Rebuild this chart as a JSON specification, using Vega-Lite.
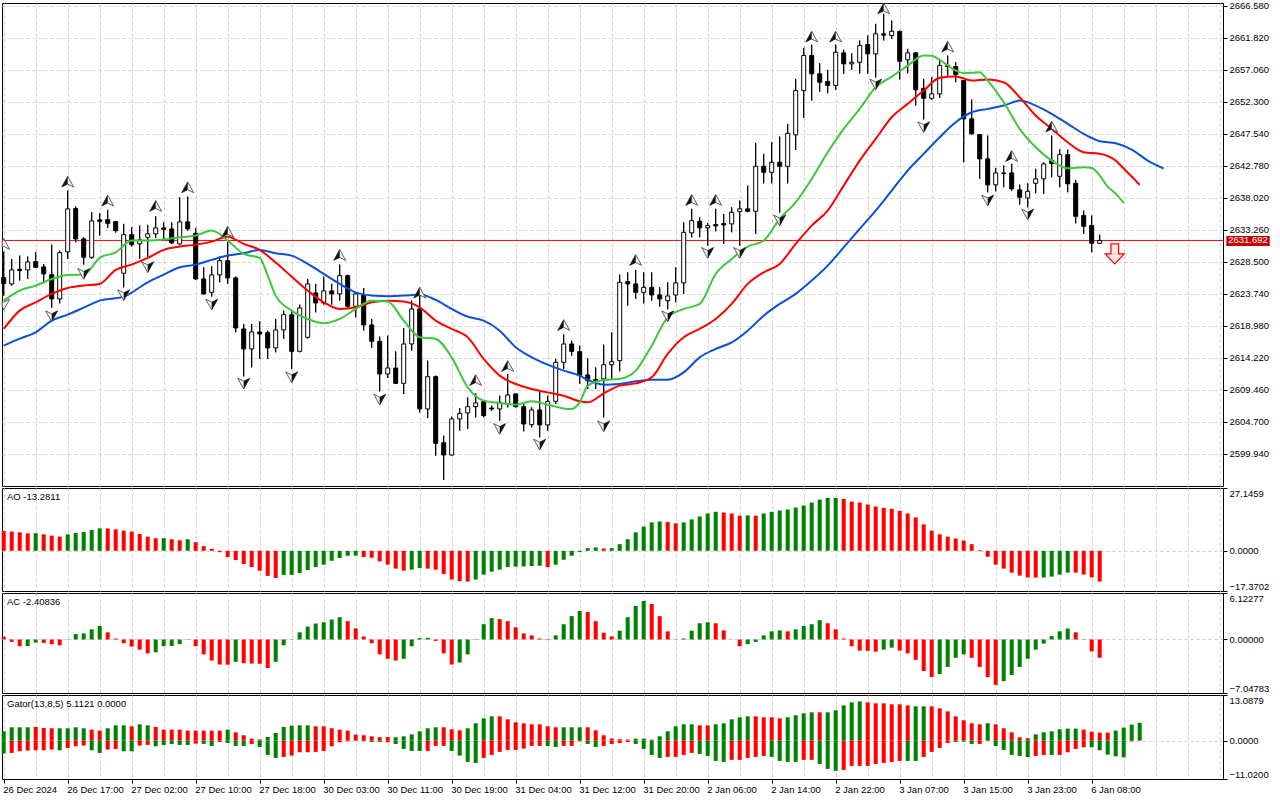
{
  "$schema": "https://vega.github.io/schema/vega-lite/v6.json",
  "background": "white",
  "padding": {"left": 0, "top": 0, "right": 0, "bottom": 0},
  "spacing": 0,
  "resolve": {"scale": {"color": "independent"}},
  "datasets": {
    "candles": [
      {"i":0,"o":2626.17,"h":2630.03,"l":2623.49,"c":2625.27},
      {"i":1,"o":2625.23,"h":2628.95,"l":2624.98,"c":2627.31},
      {"i":2,"o":2627.40,"h":2629.44,"l":2625.72,"c":2627.21},
      {"i":3,"o":2627.31,"h":2629.29,"l":2625.97,"c":2628.50},
      {"i":4,"o":2628.55,"h":2629.93,"l":2627.61,"c":2627.70},
      {"i":5,"o":2627.76,"h":2628.20,"l":2625.32,"c":2626.72},
      {"i":6,"o":2626.61,"h":2631.07,"l":2621.66,"c":2623.00},
      {"i":7,"o":2623.00,"h":2630.18,"l":2622.34,"c":2629.88},
      {"i":8,"o":2629.99,"h":2639.11,"l":2628.95,"c":2636.39},
      {"i":9,"o":2636.43,"h":2636.73,"l":2631.42,"c":2631.92},
      {"i":10,"o":2631.92,"h":2632.16,"l":2628.10,"c":2629.19},
      {"i":11,"o":2629.19,"h":2635.88,"l":2628.95,"c":2634.60},
      {"i":12,"o":2634.75,"h":2635.73,"l":2632.41,"c":2634.54},
      {"i":13,"o":2634.79,"h":2636.24,"l":2633.56,"c":2634.24},
      {"i":14,"o":2634.50,"h":2634.60,"l":2632.86,"c":2633.16},
      {"i":15,"o":2626.81,"h":2634.15,"l":2624.72,"c":2632.56},
      {"i":16,"o":2632.56,"h":2633.65,"l":2630.78,"c":2631.07},
      {"i":17,"o":2631.18,"h":2633.90,"l":2628.95,"c":2631.77},
      {"i":18,"o":2632.16,"h":2634.01,"l":2629.29,"c":2632.67},
      {"i":19,"o":2632.67,"h":2635.28,"l":2632.07,"c":2633.56},
      {"i":20,"o":2633.56,"h":2634.39,"l":2631.92,"c":2633.35},
      {"i":21,"o":2633.41,"h":2634.39,"l":2631.20,"c":2631.33},
      {"i":22,"o":2631.18,"h":2638.11,"l":2631.07,"c":2634.45},
      {"i":23,"o":2634.45,"h":2638.21,"l":2633.16,"c":2633.41},
      {"i":24,"o":2632.76,"h":2633.56,"l":2625.85,"c":2625.97},
      {"i":25,"o":2625.97,"h":2627.70,"l":2623.64,"c":2623.74},
      {"i":26,"o":2623.98,"h":2627.85,"l":2623.34,"c":2626.57},
      {"i":27,"o":2626.57,"h":2629.29,"l":2625.47,"c":2628.69},
      {"i":28,"o":2628.69,"h":2631.52,"l":2625.23,"c":2626.12},
      {"i":29,"o":2626.12,"h":2626.31,"l":2618.03,"c":2618.68},
      {"i":30,"o":2618.53,"h":2619.28,"l":2611.48,"c":2615.56},
      {"i":31,"o":2615.56,"h":2619.28,"l":2612.82,"c":2618.09},
      {"i":32,"o":2618.09,"h":2619.67,"l":2614.07,"c":2617.79},
      {"i":33,"o":2617.98,"h":2618.28,"l":2614.07,"c":2615.71},
      {"i":34,"o":2615.71,"h":2620.02,"l":2615.05,"c":2618.39},
      {"i":35,"o":2618.39,"h":2621.26,"l":2617.05,"c":2620.66},
      {"i":36,"o":2620.66,"h":2621.26,"l":2612.59,"c":2615.20},
      {"i":37,"o":2615.20,"h":2622.15,"l":2615.05,"c":2621.66},
      {"i":38,"o":2617.29,"h":2625.97,"l":2617.09,"c":2625.23},
      {"i":39,"o":2623.89,"h":2625.23,"l":2621.00,"c":2622.40},
      {"i":40,"o":2622.40,"h":2626.31,"l":2622.15,"c":2624.19},
      {"i":41,"o":2624.19,"h":2625.23,"l":2622.15,"c":2623.74},
      {"i":42,"o":2623.74,"h":2628.10,"l":2622.74,"c":2626.46},
      {"i":43,"o":2626.46,"h":2626.60,"l":2621.51,"c":2621.90},
      {"i":44,"o":2621.90,"h":2623.98,"l":2620.26,"c":2623.74},
      {"i":45,"o":2623.64,"h":2624.63,"l":2618.28,"c":2619.13},
      {"i":46,"o":2619.13,"h":2620.02,"l":2615.71,"c":2616.69},
      {"i":47,"o":2616.69,"h":2617.39,"l":2609.25,"c":2611.84},
      {"i":48,"o":2611.84,"h":2617.54,"l":2611.25,"c":2612.73},
      {"i":49,"o":2612.73,"h":2615.20,"l":2610.35,"c":2610.44},
      {"i":50,"o":2610.44,"h":2618.68,"l":2608.87,"c":2616.30},
      {"i":51,"o":2616.30,"h":2622.74,"l":2615.31,"c":2621.51},
      {"i":52,"o":2621.51,"h":2624.13,"l":2606.13,"c":2606.64},
      {"i":53,"o":2606.64,"h":2613.82,"l":2605.30,"c":2611.44},
      {"i":54,"o":2611.44,"h":2611.59,"l":2599.69,"c":2601.52},
      {"i":55,"o":2601.62,"h":2602.66,"l":2596.07,"c":2599.79},
      {"i":56,"o":2599.79,"h":2605.49,"l":2599.70,"c":2605.15},
      {"i":57,"o":2605.15,"h":2606.78,"l":2603.41,"c":2605.98},
      {"i":58,"o":2606.04,"h":2608.36,"l":2603.66,"c":2606.98},
      {"i":59,"o":2606.98,"h":2608.95,"l":2605.39,"c":2607.53},
      {"i":60,"o":2607.72,"h":2607.87,"l":2605.39,"c":2605.64},
      {"i":61,"o":2606.78,"h":2607.13,"l":2606.38,"c":2606.64},
      {"i":62,"o":2606.64,"h":2608.61,"l":2604.89,"c":2607.62},
      {"i":63,"o":2607.38,"h":2611.84,"l":2606.87,"c":2608.72},
      {"i":64,"o":2608.87,"h":2608.90,"l":2606.87,"c":2606.98},
      {"i":65,"o":2606.98,"h":2607.38,"l":2603.30,"c":2604.40},
      {"i":66,"o":2604.30,"h":2606.87,"l":2603.90,"c":2606.49},
      {"i":67,"o":2606.49,"h":2609.36,"l":2602.41,"c":2604.26},
      {"i":68,"o":2604.26,"h":2608.61,"l":2603.41,"c":2607.77},
      {"i":69,"o":2607.77,"h":2614.07,"l":2607.38,"c":2613.57},
      {"i":70,"o":2613.57,"h":2617.69,"l":2612.59,"c":2616.30},
      {"i":71,"o":2616.30,"h":2616.79,"l":2614.56,"c":2615.20},
      {"i":72,"o":2615.16,"h":2616.05,"l":2610.40,"c":2611.59},
      {"i":73,"o":2611.69,"h":2614.16,"l":2609.61,"c":2610.84},
      {"i":74,"o":2611.00,"h":2612.82,"l":2609.61,"c":2610.80},
      {"i":75,"o":2611.10,"h":2616.20,"l":2605.39,"c":2613.22},
      {"i":76,"o":2613.22,"h":2618.03,"l":2611.10,"c":2613.67},
      {"i":77,"o":2613.82,"h":2626.61,"l":2612.23,"c":2625.47},
      {"i":78,"o":2625.57,"h":2626.95,"l":2622.00,"c":2625.23},
      {"i":79,"o":2625.23,"h":2627.31,"l":2623.00,"c":2623.98},
      {"i":80,"o":2623.98,"h":2626.95,"l":2622.34,"c":2624.72},
      {"i":81,"o":2624.72,"h":2626.95,"l":2622.74,"c":2623.59},
      {"i":82,"o":2623.59,"h":2624.72,"l":2621.85,"c":2623.00},
      {"i":83,"o":2622.74,"h":2625.47,"l":2621.45,"c":2623.44},
      {"i":84,"o":2623.59,"h":2627.70,"l":2622.49,"c":2625.38},
      {"i":85,"o":2625.38,"h":2634.39,"l":2623.74,"c":2632.90},
      {"i":86,"o":2632.82,"h":2636.39,"l":2632.16,"c":2634.64},
      {"i":87,"o":2634.54,"h":2635.14,"l":2632.16,"c":2633.56},
      {"i":88,"o":2633.56,"h":2634.30,"l":2630.93,"c":2633.90},
      {"i":89,"o":2634.05,"h":2636.39,"l":2633.05,"c":2633.86},
      {"i":90,"o":2634.20,"h":2635.64,"l":2631.18,"c":2634.01},
      {"i":91,"o":2634.15,"h":2636.62,"l":2632.90,"c":2635.88},
      {"i":92,"o":2635.98,"h":2637.62,"l":2630.93,"c":2636.39},
      {"i":93,"o":2636.39,"h":2639.85,"l":2635.88,"c":2636.03},
      {"i":94,"o":2636.03,"h":2646.20,"l":2632.67,"c":2642.72},
      {"i":95,"o":2642.72,"h":2644.57,"l":2640.19,"c":2641.83},
      {"i":96,"o":2641.83,"h":2646.29,"l":2640.19,"c":2643.32},
      {"i":97,"o":2643.32,"h":2647.14,"l":2635.83,"c":2642.72},
      {"i":98,"o":2642.72,"h":2649.03,"l":2640.19,"c":2647.63},
      {"i":99,"o":2647.39,"h":2655.72,"l":2645.16,"c":2653.98},
      {"i":100,"o":2653.98,"h":2660.33,"l":2649.92,"c":2659.19},
      {"i":101,"o":2659.19,"h":2660.82,"l":2652.49,"c":2656.47},
      {"i":102,"o":2656.47,"h":2658.04,"l":2653.83,"c":2655.22},
      {"i":103,"o":2655.32,"h":2657.06,"l":2653.58,"c":2654.73},
      {"i":104,"o":2654.73,"h":2660.82,"l":2654.09,"c":2659.68},
      {"i":105,"o":2659.59,"h":2660.04,"l":2656.47,"c":2657.95},
      {"i":106,"o":2657.95,"h":2659.53,"l":2657.06,"c":2658.19},
      {"i":107,"o":2658.19,"h":2661.42,"l":2656.51,"c":2660.68},
      {"i":108,"o":2660.82,"h":2662.16,"l":2656.47,"c":2659.44},
      {"i":109,"o":2659.44,"h":2663.90,"l":2655.92,"c":2662.42},
      {"i":110,"o":2662.42,"h":2665.39,"l":2661.42,"c":2662.21},
      {"i":111,"o":2662.16,"h":2664.39,"l":2661.67,"c":2662.80},
      {"i":112,"o":2662.76,"h":2662.91,"l":2655.62,"c":2658.34},
      {"i":113,"o":2658.55,"h":2660.19,"l":2656.56,"c":2659.59},
      {"i":114,"o":2659.59,"h":2659.70,"l":2651.75,"c":2654.09},
      {"i":115,"o":2654.32,"h":2655.72,"l":2649.67,"c":2652.84},
      {"i":116,"o":2652.84,"h":2655.96,"l":2652.60,"c":2653.49},
      {"i":117,"o":2653.49,"h":2658.44,"l":2652.90,"c":2657.70},
      {"i":118,"o":2657.70,"h":2659.19,"l":2656.21,"c":2657.55},
      {"i":119,"o":2657.55,"h":2658.19,"l":2655.22,"c":2656.36},
      {"i":120,"o":2655.47,"h":2655.50,"l":2643.32,"c":2649.77},
      {"i":121,"o":2649.77,"h":2652.64,"l":2647.45,"c":2647.54},
      {"i":122,"o":2647.44,"h":2647.50,"l":2640.85,"c":2643.82},
      {"i":123,"o":2643.82,"h":2647.29,"l":2638.85,"c":2639.96},
      {"i":124,"o":2639.96,"h":2642.48,"l":2639.00,"c":2641.74},
      {"i":125,"o":2641.64,"h":2642.83,"l":2639.60,"c":2641.74},
      {"i":126,"o":2641.74,"h":2643.08,"l":2639.11,"c":2639.36},
      {"i":127,"o":2639.21,"h":2640.00,"l":2637.02,"c":2638.11},
      {"i":128,"o":2638.02,"h":2640.19,"l":2636.62,"c":2639.00},
      {"i":129,"o":2640.19,"h":2642.34,"l":2638.71,"c":2640.85},
      {"i":130,"o":2640.85,"h":2643.32,"l":2638.62,"c":2643.08},
      {"i":131,"o":2643.57,"h":2647.29,"l":2641.09,"c":2643.12},
      {"i":132,"o":2641.23,"h":2645.21,"l":2639.60,"c":2644.46},
      {"i":133,"o":2644.46,"h":2645.21,"l":2638.85,"c":2640.10},
      {"i":134,"o":2640.19,"h":2640.70,"l":2634.24,"c":2635.28},
      {"i":135,"o":2635.39,"h":2636.13,"l":2632.67,"c":2633.80},
      {"i":136,"o":2633.90,"h":2635.39,"l":2629.93,"c":2631.27},
      {"i":137,"o":2631.27,"h":2632.56,"l":2631.18,"c":2631.692}
    ],
    "alligator": [
      {"i":0,"s":"jaw","p":2616.05},{"i":2,"s":"jaw","p":2617.09},{"i":4,"s":"jaw","p":2618.03},{"i":6,"s":"jaw","p":2619.77},{"i":8,"s":"jaw","p":2620.66},{"i":10,"s":"jaw","p":2621.70},{"i":12,"s":"jaw","p":2622.74},{"i":15,"s":"jaw","p":2623.34},{"i":18,"s":"jaw","p":2625.47},{"i":20,"s":"jaw","p":2626.61},{"i":22,"s":"jaw","p":2627.70},{"i":24,"s":"jaw","p":2628.10},{"i":26,"s":"jaw","p":2628.80},{"i":28,"s":"jaw","p":2629.44},{"i":30,"s":"jaw","p":2629.78},{"i":32,"s":"jaw","p":2630.29},{"i":34,"s":"jaw","p":2629.78},{"i":36,"s":"jaw","p":2629.44},{"i":38,"s":"jaw","p":2628.20},{"i":40,"s":"jaw","p":2626.72},{"i":42,"s":"jaw","p":2625.23},{"i":44,"s":"jaw","p":2623.98},{"i":46,"s":"jaw","p":2623.49},{"i":48,"s":"jaw","p":2623.38},{"i":50,"s":"jaw","p":2623.49},{"i":52,"s":"jaw","p":2623.64},{"i":54,"s":"jaw","p":2622.85},{"i":56,"s":"jaw","p":2621.51},{"i":58,"s":"jaw","p":2620.36},{"i":60,"s":"jaw","p":2619.77},{"i":62,"s":"jaw","p":2618.28},{"i":64,"s":"jaw","p":2615.80},{"i":66,"s":"jaw","p":2614.31},{"i":68,"s":"jaw","p":2613.22},{"i":70,"s":"jaw","p":2612.33},{"i":72,"s":"jaw","p":2611.59},{"i":73,"s":"jaw","p":2610.95},{"i":75,"s":"jaw","p":2610.25},{"i":77,"s":"jaw","p":2610.35},{"i":79,"s":"jaw","p":2610.74},{"i":81,"s":"jaw","p":2610.99},{"i":83,"s":"jaw","p":2610.99},{"i":85,"s":"jaw","p":2612.08},{"i":87,"s":"jaw","p":2614.31},{"i":89,"s":"jaw","p":2615.56},{"i":91,"s":"jaw","p":2616.54},{"i":93,"s":"jaw","p":2618.28},{"i":95,"s":"jaw","p":2620.51},{"i":97,"s":"jaw","p":2622.25},{"i":99,"s":"jaw","p":2623.74},{"i":101,"s":"jaw","p":2625.72},{"i":103,"s":"jaw","p":2627.95},{"i":105,"s":"jaw","p":2630.67},{"i":107,"s":"jaw","p":2633.41},{"i":109,"s":"jaw","p":2636.13},{"i":111,"s":"jaw","p":2639.11},{"i":113,"s":"jaw","p":2642.08},{"i":115,"s":"jaw","p":2644.57},{"i":117,"s":"jaw","p":2647.04},{"i":119,"s":"jaw","p":2649.27},{"i":121,"s":"jaw","p":2650.75},{"i":123,"s":"jaw","p":2651.26},{"i":125,"s":"jaw","p":2651.75},{"i":127,"s":"jaw","p":2652.49},{"i":129,"s":"jaw","p":2651.75},{"i":131,"s":"jaw","p":2650.52},{"i":133,"s":"jaw","p":2649.03},{"i":135,"s":"jaw","p":2647.54},{"i":137,"s":"jaw","p":2646.44},{"i":139,"s":"jaw","p":2646.14},{"i":141,"s":"jaw","p":2645.21},{"i":143,"s":"jaw","p":2643.57},{"i":145,"s":"jaw","p":2642.38},
      {"i":0,"s":"teeth","p":2618.53},{"i":2,"s":"teeth","p":2621.26},{"i":4,"s":"teeth","p":2622.49},{"i":6,"s":"teeth","p":2623.74},{"i":8,"s":"teeth","p":2624.63},{"i":10,"s":"teeth","p":2624.98},{"i":12,"s":"teeth","p":2625.23},{"i":14,"s":"teeth","p":2627.31},{"i":16,"s":"teeth","p":2628.10},{"i":18,"s":"teeth","p":2629.10},{"i":20,"s":"teeth","p":2630.29},{"i":22,"s":"teeth","p":2630.78},{"i":24,"s":"teeth","p":2631.07},{"i":26,"s":"teeth","p":2631.52},{"i":28,"s":"teeth","p":2632.26},{"i":30,"s":"teeth","p":2631.18},{"i":32,"s":"teeth","p":2630.29},{"i":34,"s":"teeth","p":2628.40},{"i":36,"s":"teeth","p":2626.30},{"i":38,"s":"teeth","p":2624.23},{"i":40,"s":"teeth","p":2622.49},{"i":42,"s":"teeth","p":2621.51},{"i":44,"s":"teeth","p":2621.75},{"i":46,"s":"teeth","p":2622.49},{"i":48,"s":"teeth","p":2622.74},{"i":50,"s":"teeth","p":2622.60},{"i":52,"s":"teeth","p":2621.75},{"i":54,"s":"teeth","p":2619.77},{"i":56,"s":"teeth","p":2618.53},{"i":58,"s":"teeth","p":2617.29},{"i":60,"s":"teeth","p":2614.07},{"i":62,"s":"teeth","p":2611.59},{"i":64,"s":"teeth","p":2610.35},{"i":66,"s":"teeth","p":2609.61},{"i":68,"s":"teeth","p":2609.10},{"i":70,"s":"teeth","p":2608.61},{"i":72,"s":"teeth","p":2607.77},{"i":73,"s":"teeth","p":2607.62},{"i":75,"s":"teeth","p":2608.95},{"i":77,"s":"teeth","p":2610.10},{"i":79,"s":"teeth","p":2610.44},{"i":81,"s":"teeth","p":2611.34},{"i":83,"s":"teeth","p":2614.82},{"i":85,"s":"teeth","p":2617.29},{"i":87,"s":"teeth","p":2618.53},{"i":89,"s":"teeth","p":2620.02},{"i":91,"s":"teeth","p":2622.25},{"i":93,"s":"teeth","p":2625.23},{"i":95,"s":"teeth","p":2626.95},{"i":97,"s":"teeth","p":2628.20},{"i":99,"s":"teeth","p":2631.18},{"i":101,"s":"teeth","p":2633.90},{"i":103,"s":"teeth","p":2636.13},{"i":105,"s":"teeth","p":2639.85},{"i":107,"s":"teeth","p":2643.57},{"i":109,"s":"teeth","p":2646.80},{"i":111,"s":"teeth","p":2650.01},{"i":113,"s":"teeth","p":2652.00},{"i":115,"s":"teeth","p":2653.98},{"i":117,"s":"teeth","p":2655.87},{"i":119,"s":"teeth","p":2656.06},{"i":121,"s":"teeth","p":2655.47},{"i":123,"s":"teeth","p":2655.62},{"i":125,"s":"teeth","p":2655.22},{"i":127,"s":"teeth","p":2652.99},{"i":129,"s":"teeth","p":2650.26},{"i":131,"s":"teeth","p":2648.28},{"i":133,"s":"teeth","p":2646.29},{"i":135,"s":"teeth","p":2644.80},{"i":137,"s":"teeth","p":2644.57},{"i":139,"s":"teeth","p":2643.57},{"i":140,"s":"teeth","p":2642.38},{"i":141,"s":"teeth","p":2641.19},{"i":142,"s":"teeth","p":2639.96},
      {"i":0,"s":"lips","p":2622.74},{"i":2,"s":"lips","p":2624.23},{"i":4,"s":"lips","p":2624.98},{"i":6,"s":"lips","p":2625.97},{"i":8,"s":"lips","p":2626.57},{"i":10,"s":"lips","p":2626.61},{"i":12,"s":"lips","p":2629.10},{"i":14,"s":"lips","p":2629.93},{"i":16,"s":"lips","p":2631.67},{"i":18,"s":"lips","p":2631.67},{"i":20,"s":"lips","p":2631.82},{"i":22,"s":"lips","p":2632.16},{"i":24,"s":"lips","p":2632.41},{"i":26,"s":"lips","p":2633.16},{"i":28,"s":"lips","p":2631.67},{"i":30,"s":"lips","p":2629.69},{"i":32,"s":"lips","p":2629.10},{"i":33,"s":"lips","p":2626.46},{"i":34,"s":"lips","p":2623.49},{"i":36,"s":"lips","p":2621.26},{"i":38,"s":"lips","p":2620.02},{"i":40,"s":"lips","p":2619.37},{"i":42,"s":"lips","p":2620.02},{"i":44,"s":"lips","p":2621.51},{"i":46,"s":"lips","p":2622.74},{"i":48,"s":"lips","p":2622.60},{"i":50,"s":"lips","p":2619.77},{"i":52,"s":"lips","p":2617.29},{"i":54,"s":"lips","p":2617.05},{"i":56,"s":"lips","p":2614.31},{"i":58,"s":"lips","p":2609.85},{"i":60,"s":"lips","p":2607.87},{"i":62,"s":"lips","p":2607.53},{"i":64,"s":"lips","p":2607.27},{"i":66,"s":"lips","p":2607.77},{"i":68,"s":"lips","p":2607.27},{"i":70,"s":"lips","p":2606.72},{"i":71,"s":"lips","p":2606.64},{"i":72,"s":"lips","p":2607.62},{"i":73,"s":"lips","p":2610.10},{"i":75,"s":"lips","p":2610.95},{"i":77,"s":"lips","p":2611.10},{"i":79,"s":"lips","p":2612.33},{"i":81,"s":"lips","p":2616.05},{"i":83,"s":"lips","p":2620.26},{"i":85,"s":"lips","p":2621.51},{"i":87,"s":"lips","p":2622.25},{"i":89,"s":"lips","p":2626.72},{"i":91,"s":"lips","p":2628.95},{"i":93,"s":"lips","p":2630.78},{"i":95,"s":"lips","p":2631.67},{"i":97,"s":"lips","p":2634.90},{"i":99,"s":"lips","p":2637.37},{"i":101,"s":"lips","p":2640.85},{"i":103,"s":"lips","p":2644.80},{"i":105,"s":"lips","p":2648.29},{"i":107,"s":"lips","p":2651.26},{"i":109,"s":"lips","p":2654.47},{"i":111,"s":"lips","p":2656.06},{"i":113,"s":"lips","p":2657.70},{"i":115,"s":"lips","p":2659.19},{"i":116,"s":"lips","p":2659.14},{"i":117,"s":"lips","p":2658.55},{"i":119,"s":"lips","p":2656.96},{"i":120,"s":"lips","p":2656.56},{"i":122,"s":"lips","p":2656.70},{"i":123,"s":"lips","p":2655.47},{"i":125,"s":"lips","p":2652.24},{"i":127,"s":"lips","p":2648.29},{"i":129,"s":"lips","p":2645.55},{"i":131,"s":"lips","p":2643.57},{"i":133,"s":"lips","p":2642.42},{"i":135,"s":"lips","p":2642.57},{"i":136,"s":"lips","p":2642.48},{"i":137,"s":"lips","p":2641.34},{"i":138,"s":"lips","p":2639.70},{"i":139,"s":"lips","p":2638.66},{"i":140,"s":"lips","p":2637.28}
    ],
    "fractals": [
      {"i":0,"p":2631.07,"t":"up"},{"i":8,"p":2640.34,"t":"up"},{"i":13,"p":2637.52,"t":"up"},{"i":19,"p":2636.73,"t":"up"},{"i":23,"p":2639.51,"t":"up"},{"i":28,"p":2632.90,"t":"up"},{"i":42,"p":2629.44,"t":"up"},{"i":52,"p":2623.83,"t":"up"},{"i":59,"p":2610.84,"t":"up"},{"i":63,"p":2612.93,"t":"up"},{"i":70,"p":2619.03,"t":"up"},{"i":79,"p":2628.69,"t":"up"},{"i":86,"p":2637.62,"t":"up"},{"i":89,"p":2637.62,"t":"up"},{"i":101,"p":2661.91,"t":"up"},{"i":104,"p":2661.91,"t":"up"},{"i":110,"p":2666.1,"t":"up"},{"i":118,"p":2660.42,"t":"up"},{"i":126,"p":2644.16,"t":"up"},{"i":131,"p":2648.52,"t":"up"},
      {"i":0,"p":2622.25,"t":"down"},{"i":6,"p":2620.51,"t":"down"},{"i":10,"p":2626.81,"t":"down"},{"i":15,"p":2623.64,"t":"down"},{"i":18,"p":2627.80,"t":"down"},{"i":26,"p":2622.25,"t":"down"},{"i":30,"p":2610.50,"t":"down"},{"i":36,"p":2611.44,"t":"down"},{"i":47,"p":2608.12,"t":"down"},{"i":62,"p":2603.75,"t":"down"},{"i":67,"p":2601.43,"t":"down"},{"i":75,"p":2604.15,"t":"down"},{"i":83,"p":2620.51,"t":"down"},{"i":88,"p":2629.93,"t":"down"},{"i":92,"p":2629.93,"t":"down"},{"i":97,"p":2634.75,"t":"down"},{"i":109,"p":2654.98,"t":"down"},{"i":115,"p":2648.63,"t":"down"},{"i":123,"p":2637.72,"t":"down"},{"i":128,"p":2635.64,"t":"down"}
    ],
    "ao": [
      {"i":0,"v":8.57,"d":"dn"},{"i":1,"v":8.29,"d":"dn"},{"i":2,"v":8.0,"d":"dn"},{"i":3,"v":7.57,"d":"dn"},{"i":4,"v":7.6,"d":"up"},{"i":5,"v":7.14,"d":"dn"},{"i":6,"v":6.57,"d":"dn"},{"i":7,"v":6.14,"d":"dn"},{"i":8,"v":7.14,"d":"up"},{"i":9,"v":7.71,"d":"up"},{"i":10,"v":8.14,"d":"up"},{"i":11,"v":9.0,"d":"up"},{"i":12,"v":9.71,"d":"up"},{"i":13,"v":9.65,"d":"dn"},{"i":14,"v":9.29,"d":"dn"},{"i":15,"v":8.71,"d":"dn"},{"i":16,"v":8.29,"d":"dn"},{"i":17,"v":7.29,"d":"dn"},{"i":18,"v":6.14,"d":"dn"},{"i":19,"v":5.43,"d":"dn"},{"i":20,"v":5.45,"d":"up"},{"i":21,"v":5.0,"d":"dn"},{"i":22,"v":4.57,"d":"dn"},{"i":23,"v":5.0,"d":"up"},{"i":24,"v":3.71,"d":"dn"},{"i":25,"v":2.0,"d":"dn"},{"i":26,"v":0.86,"d":"dn"},{"i":27,"v":-0.57,"d":"dn"},{"i":28,"v":-2.71,"d":"dn"},{"i":29,"v":-4.0,"d":"dn"},{"i":30,"v":-5.71,"d":"dn"},{"i":31,"v":-7.0,"d":"dn"},{"i":32,"v":-8.57,"d":"dn"},{"i":33,"v":-10.86,"d":"dn"},{"i":34,"v":-11.71,"d":"dn"},{"i":35,"v":-10.43,"d":"up"},{"i":36,"v":-10.4,"d":"up"},{"i":37,"v":-9.57,"d":"up"},{"i":38,"v":-8.29,"d":"up"},{"i":39,"v":-7.0,"d":"up"},{"i":40,"v":-6.0,"d":"up"},{"i":41,"v":-4.29,"d":"up"},{"i":42,"v":-3.14,"d":"up"},{"i":43,"v":-2.14,"d":"up"},{"i":44,"v":-2.1,"d":"up"},{"i":45,"v":-2.71,"d":"dn"},{"i":46,"v":-3.0,"d":"dn"},{"i":47,"v":-4.57,"d":"dn"},{"i":48,"v":-6.0,"d":"dn"},{"i":49,"v":-7.71,"d":"dn"},{"i":50,"v":-8.57,"d":"dn"},{"i":51,"v":-8.14,"d":"up"},{"i":52,"v":-7.43,"d":"up"},{"i":53,"v":-7.71,"d":"dn"},{"i":54,"v":-8.14,"d":"dn"},{"i":55,"v":-10.0,"d":"dn"},{"i":56,"v":-12.43,"d":"dn"},{"i":57,"v":-13.1,"d":"dn"},{"i":58,"v":-13.3,"d":"dn"},{"i":59,"v":-12.43,"d":"up"},{"i":60,"v":-10.29,"d":"up"},{"i":61,"v":-9.0,"d":"up"},{"i":62,"v":-8.14,"d":"up"},{"i":63,"v":-7.0,"d":"up"},{"i":64,"v":-6.86,"d":"up"},{"i":65,"v":-6.75,"d":"up"},{"i":66,"v":-6.6,"d":"up"},{"i":67,"v":-6.45,"d":"up"},{"i":68,"v":-7.0,"d":"dn"},{"i":69,"v":-6.0,"d":"up"},{"i":70,"v":-3.86,"d":"up"},{"i":71,"v":-2.14,"d":"up"},{"i":72,"v":-0.57,"d":"up"},{"i":73,"v":1.14,"d":"up"},{"i":74,"v":1.43,"d":"up"},{"i":75,"v":1.0,"d":"dn"},{"i":76,"v":1.14,"d":"up"},{"i":77,"v":2.86,"d":"up"},{"i":78,"v":5.0,"d":"up"},{"i":79,"v":8.0,"d":"up"},{"i":80,"v":10.43,"d":"up"},{"i":81,"v":12.29,"d":"up"},{"i":82,"v":12.71,"d":"up"},{"i":83,"v":12.43,"d":"dn"},{"i":84,"v":11.86,"d":"dn"},{"i":85,"v":12.29,"d":"up"},{"i":86,"v":13.57,"d":"up"},{"i":87,"v":14.86,"d":"up"},{"i":88,"v":16.14,"d":"up"},{"i":89,"v":16.86,"d":"up"},{"i":90,"v":16.57,"d":"dn"},{"i":91,"v":16.14,"d":"dn"},{"i":92,"v":15.2,"d":"dn"},{"i":93,"v":15.3,"d":"up"},{"i":94,"v":15.2,"d":"dn"},{"i":95,"v":16.14,"d":"up"},{"i":96,"v":16.86,"d":"up"},{"i":97,"v":17.43,"d":"up"},{"i":98,"v":17.86,"d":"up"},{"i":99,"v":18.71,"d":"up"},{"i":100,"v":19.57,"d":"up"},{"i":101,"v":20.86,"d":"up"},{"i":102,"v":22.14,"d":"up"},{"i":103,"v":22.86,"d":"up"},{"i":104,"v":22.9,"d":"up"},{"i":105,"v":22.43,"d":"dn"},{"i":106,"v":21.29,"d":"dn"},{"i":107,"v":20.86,"d":"dn"},{"i":108,"v":20.0,"d":"dn"},{"i":109,"v":19.14,"d":"dn"},{"i":110,"v":18.57,"d":"dn"},{"i":111,"v":18.14,"d":"dn"},{"i":112,"v":17.29,"d":"dn"},{"i":113,"v":16.14,"d":"dn"},{"i":114,"v":14.43,"d":"dn"},{"i":115,"v":11.43,"d":"dn"},{"i":116,"v":8.71,"d":"dn"},{"i":117,"v":7.14,"d":"dn"},{"i":118,"v":6.14,"d":"dn"},{"i":119,"v":5.29,"d":"dn"},{"i":120,"v":4.43,"d":"dn"},{"i":121,"v":2.86,"d":"dn"},{"i":122,"v":0.29,"d":"dn"},{"i":123,"v":-2.57,"d":"dn"},{"i":124,"v":-6.0,"d":"dn"},{"i":125,"v":-7.71,"d":"dn"},{"i":126,"v":-9.43,"d":"dn"},{"i":127,"v":-10.71,"d":"dn"},{"i":128,"v":-11.57,"d":"dn"},{"i":129,"v":-11.6,"d":"dn"},{"i":130,"v":-11.55,"d":"up"},{"i":131,"v":-11.14,"d":"up"},{"i":132,"v":-10.29,"d":"up"},{"i":133,"v":-9.4,"d":"up"},{"i":134,"v":-9.45,"d":"dn"},{"i":135,"v":-10.3,"d":"dn"},{"i":136,"v":-11.5,"d":"dn"},{"i":137,"v":-13.2811,"d":"dn"}
    ],
    "ac": [
      {"i":0,"v":0.36,"d":"dn"},{"i":1,"v":-0.31,"d":"dn"},{"i":2,"v":-0.89,"d":"dn"},{"i":3,"v":-0.87,"d":"up"},{"i":4,"v":-0.4,"d":"up"},{"i":5,"v":-0.45,"d":"dn"},{"i":6,"v":-0.62,"d":"dn"},{"i":7,"v":-0.76,"d":"dn"},{"i":8,"v":-0.04,"d":"up"},{"i":9,"v":0.71,"d":"up"},{"i":10,"v":0.80,"d":"up"},{"i":11,"v":1.34,"d":"up"},{"i":12,"v":1.78,"d":"up"},{"i":13,"v":0.94,"d":"dn"},{"i":14,"v":0.13,"d":"dn"},{"i":15,"v":-0.49,"d":"dn"},{"i":16,"v":-0.94,"d":"dn"},{"i":17,"v":-1.34,"d":"dn"},{"i":18,"v":-1.83,"d":"dn"},{"i":19,"v":-1.69,"d":"up"},{"i":20,"v":-0.89,"d":"up"},{"i":21,"v":-0.85,"d":"up"},{"i":22,"v":-0.62,"d":"up"},{"i":23,"v":-0.04,"d":"up"},{"i":24,"v":-0.89,"d":"dn"},{"i":25,"v":-1.96,"d":"dn"},{"i":26,"v":-2.77,"d":"dn"},{"i":27,"v":-3.30,"d":"dn"},{"i":28,"v":-3.32,"d":"dn"},{"i":29,"v":-2.94,"d":"up"},{"i":30,"v":-3.12,"d":"dn"},{"i":31,"v":-3.17,"d":"dn"},{"i":32,"v":-3.2,"d":"dn"},{"i":33,"v":-3.75,"d":"dn"},{"i":34,"v":-2.94,"d":"up"},{"i":35,"v":-0.76,"d":"up"},{"i":36,"v":0.04,"d":"up"},{"i":37,"v":0.94,"d":"up"},{"i":38,"v":1.69,"d":"up"},{"i":39,"v":2.10,"d":"up"},{"i":40,"v":2.27,"d":"up"},{"i":41,"v":2.63,"d":"up"},{"i":42,"v":2.94,"d":"up"},{"i":43,"v":2.41,"d":"dn"},{"i":44,"v":1.47,"d":"dn"},{"i":45,"v":0.40,"d":"dn"},{"i":46,"v":-0.49,"d":"dn"},{"i":47,"v":-1.96,"d":"dn"},{"i":48,"v":-2.54,"d":"dn"},{"i":49,"v":-2.77,"d":"dn"},{"i":50,"v":-2.54,"d":"up"},{"i":51,"v":-0.89,"d":"up"},{"i":52,"v":0.18,"d":"up"},{"i":53,"v":0.22,"d":"up"},{"i":54,"v":-0.18,"d":"dn"},{"i":55,"v":-1.83,"d":"dn"},{"i":56,"v":-3.30,"d":"dn"},{"i":57,"v":-3.03,"d":"up"},{"i":58,"v":-1.96,"d":"up"},{"i":59,"v":-0.04,"d":"up"},{"i":60,"v":2.01,"d":"up"},{"i":61,"v":2.81,"d":"up"},{"i":62,"v":2.68,"d":"dn"},{"i":63,"v":2.41,"d":"dn"},{"i":64,"v":1.61,"d":"dn"},{"i":65,"v":0.80,"d":"dn"},{"i":66,"v":0.54,"d":"dn"},{"i":67,"v":0.13,"d":"dn"},{"i":68,"v":-0.09,"d":"dn"},{"i":69,"v":0.54,"d":"up"},{"i":70,"v":2.01,"d":"up"},{"i":71,"v":3.08,"d":"up"},{"i":72,"v":3.75,"d":"up"},{"i":73,"v":3.61,"d":"dn"},{"i":74,"v":2.41,"d":"dn"},{"i":75,"v":0.89,"d":"dn"},{"i":76,"v":0.40,"d":"dn"},{"i":77,"v":1.16,"d":"up"},{"i":78,"v":2.94,"d":"up"},{"i":79,"v":4.42,"d":"up"},{"i":80,"v":5.08,"d":"up"},{"i":81,"v":4.68,"d":"dn"},{"i":82,"v":3.08,"d":"dn"},{"i":83,"v":1.07,"d":"dn"},{"i":84,"v":-0.04,"d":"dn"},{"i":85,"v":0.13,"d":"up"},{"i":86,"v":1.16,"d":"up"},{"i":87,"v":2.14,"d":"up"},{"i":88,"v":2.27,"d":"up"},{"i":89,"v":2.14,"d":"dn"},{"i":90,"v":1.20,"d":"dn"},{"i":91,"v":-0.02,"d":"dn"},{"i":92,"v":-0.89,"d":"dn"},{"i":93,"v":-0.62,"d":"up"},{"i":94,"v":-0.31,"d":"up"},{"i":95,"v":0.54,"d":"up"},{"i":96,"v":1.07,"d":"up"},{"i":97,"v":1.20,"d":"up"},{"i":98,"v":1.07,"d":"dn"},{"i":99,"v":1.34,"d":"up"},{"i":100,"v":1.78,"d":"up"},{"i":101,"v":2.01,"d":"up"},{"i":102,"v":2.54,"d":"up"},{"i":103,"v":2.14,"d":"dn"},{"i":104,"v":1.34,"d":"dn"},{"i":105,"v":0.13,"d":"dn"},{"i":106,"v":-0.89,"d":"dn"},{"i":107,"v":-1.47,"d":"dn"},{"i":108,"v":-1.5,"d":"dn"},{"i":109,"v":-1.61,"d":"dn"},{"i":110,"v":-1.34,"d":"up"},{"i":111,"v":-1.07,"d":"up"},{"i":112,"v":-1.47,"d":"dn"},{"i":113,"v":-1.83,"d":"dn"},{"i":114,"v":-2.68,"d":"dn"},{"i":115,"v":-4.15,"d":"dn"},{"i":116,"v":-4.95,"d":"dn"},{"i":117,"v":-4.55,"d":"up"},{"i":118,"v":-3.61,"d":"up"},{"i":119,"v":-2.41,"d":"up"},{"i":120,"v":-1.96,"d":"up"},{"i":121,"v":-2.41,"d":"dn"},{"i":122,"v":-3.61,"d":"dn"},{"i":123,"v":-4.95,"d":"dn"},{"i":124,"v":-5.98,"d":"dn"},{"i":125,"v":-5.49,"d":"up"},{"i":126,"v":-4.68,"d":"up"},{"i":127,"v":-3.61,"d":"up"},{"i":128,"v":-2.54,"d":"up"},{"i":129,"v":-1.34,"d":"up"},{"i":130,"v":-0.54,"d":"up"},{"i":131,"v":0.45,"d":"up"},{"i":132,"v":1.07,"d":"up"},{"i":133,"v":1.45,"d":"up"},{"i":134,"v":0.94,"d":"dn"},{"i":135,"v":-0.04,"d":"dn"},{"i":136,"v":-1.58,"d":"dn"},{"i":137,"v":-2.40836,"d":"dn"}
    ],
    "gator": [
      {"i":0,"u":2.67,"ud":"up","l":-3.72,"ld":"up"},{"i":1,"u":3.82,"ud":"up","l":-3.53,"ld":"dn"},{"i":2,"u":3.82,"ud":"up","l":-3.06,"ld":"dn"},{"i":3,"u":3.82,"ud":"up","l":-2.87,"ld":"dn"},{"i":4,"u":3.92,"ud":"dn","l":-2.77,"ld":"dn"},{"i":5,"u":3.63,"ud":"dn","l":-2.77,"ld":"dn"},{"i":6,"u":3.53,"ud":"dn","l":-2.58,"ld":"dn"},{"i":7,"u":3.53,"ud":"up","l":-2.77,"ld":"up"},{"i":8,"u":3.53,"ud":"up","l":-2.10,"ld":"dn"},{"i":9,"u":3.82,"ud":"up","l":-1.62,"ld":"dn"},{"i":10,"u":3.53,"ud":"up","l":-1.43,"ld":"dn"},{"i":11,"u":3.15,"ud":"dn","l":-2.77,"ld":"up"},{"i":12,"u":2.87,"ud":"dn","l":-3.53,"ld":"up"},{"i":13,"u":3.53,"ud":"up","l":-2.58,"ld":"dn"},{"i":14,"u":4.39,"ud":"up","l":-2.39,"ld":"dn"},{"i":15,"u":4.39,"ud":"up","l":-3.06,"ld":"up"},{"i":16,"u":4.11,"ud":"dn","l":-3.06,"ld":"up"},{"i":17,"u":4.68,"ud":"up","l":-1.43,"ld":"dn"},{"i":18,"u":4.39,"ud":"up","l":-1.24,"ld":"dn"},{"i":19,"u":3.92,"ud":"dn","l":-1.62,"ld":"up"},{"i":20,"u":3.15,"ud":"dn","l":-1.24,"ld":"up"},{"i":21,"u":3.15,"ud":"dn","l":-0.96,"ld":"up"},{"i":22,"u":3.15,"ud":"dn","l":-1.24,"ld":"up"},{"i":23,"u":2.87,"ud":"dn","l":-1.24,"ld":"up"},{"i":24,"u":2.87,"ud":"dn","l":-0.86,"ld":"dn"},{"i":25,"u":2.87,"ud":"dn","l":-0.96,"ld":"up"},{"i":26,"u":2.87,"ud":"dn","l":-1.53,"ld":"up"},{"i":27,"u":2.87,"ud":"dn","l":-0.38,"ld":"dn"},{"i":28,"u":3.15,"ud":"up","l":-0.67,"ld":"up"},{"i":29,"u":2.39,"ud":"dn","l":-1.53,"ld":"up"},{"i":30,"u":1.53,"ud":"dn","l":-1.53,"ld":"up"},{"i":31,"u":0.57,"ud":"dn","l":-0.96,"ld":"dn"},{"i":32,"u":0.29,"ud":"dn","l":-1.81,"ld":"up"},{"i":33,"u":1.05,"ud":"up","l":-4.11,"ld":"up"},{"i":34,"u":2.20,"ud":"up","l":-4.97,"ld":"up"},{"i":35,"u":3.92,"ud":"up","l":-4.68,"ld":"dn"},{"i":36,"u":4.30,"ud":"up","l":-4.30,"ld":"dn"},{"i":37,"u":4.39,"ud":"up","l":-3.34,"ld":"dn"},{"i":38,"u":4.39,"ud":"up","l":-3.34,"ld":"dn"},{"i":39,"u":4.11,"ud":"dn","l":-3.25,"ld":"dn"},{"i":40,"u":4.11,"ud":"dn","l":-2.96,"ld":"dn"},{"i":41,"u":3.53,"ud":"dn","l":-1.62,"ld":"dn"},{"i":42,"u":3.15,"ud":"dn","l":-0.48,"ld":"dn"},{"i":43,"u":2.87,"ud":"dn","l":-0.19,"ld":"dn"},{"i":44,"u":1.72,"ud":"dn","l":-0.05,"ld":"up"},{"i":45,"u":1.53,"ud":"dn","l":-0.19,"ld":"up"},{"i":46,"u":1.24,"ud":"dn","l":-0.38,"ld":"up"},{"i":47,"u":0.96,"ud":"dn","l":-0.38,"ld":"up"},{"i":48,"u":1.05,"ud":"dn","l":-0.48,"ld":"dn"},{"i":49,"u":0.96,"ud":"up","l":-0.96,"ld":"up"},{"i":50,"u":1.24,"ud":"up","l":-2.39,"ld":"up"},{"i":51,"u":1.81,"ud":"up","l":-2.96,"ld":"up"},{"i":52,"u":2.67,"ud":"up","l":-2.96,"ld":"up"},{"i":53,"u":3.53,"ud":"up","l":-2.96,"ld":"dn"},{"i":54,"u":3.82,"ud":"up","l":-1.53,"ld":"dn"},{"i":55,"u":3.82,"ud":"dn","l":-1.53,"ld":"dn"},{"i":56,"u":3.25,"ud":"dn","l":-2.96,"ld":"up"},{"i":57,"u":2.96,"ud":"dn","l":-4.30,"ld":"up"},{"i":58,"u":3.53,"ud":"up","l":-6.11,"ld":"up"},{"i":59,"u":4.97,"ud":"up","l":-6.40,"ld":"up"},{"i":60,"u":6.40,"ud":"up","l":-4.97,"ld":"dn"},{"i":61,"u":6.97,"ud":"up","l":-4.11,"ld":"dn"},{"i":62,"u":6.97,"ud":"dn","l":-3.25,"ld":"dn"},{"i":63,"u":6.11,"ud":"dn","l":-2.67,"ld":"dn"},{"i":64,"u":5.25,"ud":"dn","l":-2.67,"ld":"dn"},{"i":65,"u":4.97,"ud":"dn","l":-2.29,"ld":"dn"},{"i":66,"u":4.68,"ud":"dn","l":-1.53,"ld":"dn"},{"i":67,"u":4.68,"ud":"dn","l":-1.53,"ld":"dn"},{"i":68,"u":4.11,"ud":"dn","l":-1.53,"ld":"up"},{"i":69,"u":3.82,"ud":"dn","l":-1.81,"ld":"up"},{"i":70,"u":3.82,"ud":"up","l":-1.53,"ld":"dn"},{"i":71,"u":3.82,"ud":"up","l":-1.53,"ld":"dn"},{"i":72,"u":3.82,"ud":"up","l":-0.19,"ld":"dn"},{"i":73,"u":3.82,"ud":"dn","l":-0.96,"ld":"up"},{"i":74,"u":2.96,"ud":"dn","l":-1.81,"ld":"up"},{"i":75,"u":1.53,"ud":"dn","l":-1.53,"ld":"dn"},{"i":76,"u":0.57,"ud":"dn","l":-0.96,"ld":"dn"},{"i":77,"u":0.38,"ud":"dn","l":-0.67,"ld":"dn"},{"i":78,"u":0.29,"ud":"dn","l":-0.38,"ld":"dn"},{"i":79,"u":0.57,"ud":"up","l":-0.96,"ld":"up"},{"i":80,"u":0.57,"ud":"up","l":-2.39,"ld":"up"},{"i":81,"u":0.29,"ud":"dn","l":-4.11,"ld":"up"},{"i":82,"u":1.24,"ud":"up","l":-4.97,"ld":"up"},{"i":83,"u":2.67,"ud":"up","l":-4.68,"ld":"dn"},{"i":84,"u":4.11,"ud":"up","l":-4.68,"ld":"dn"},{"i":85,"u":4.68,"ud":"up","l":-4.11,"ld":"dn"},{"i":86,"u":4.68,"ud":"up","l":-3.53,"ld":"dn"},{"i":87,"u":4.39,"ud":"dn","l":-3.82,"ld":"up"},{"i":88,"u":4.39,"ud":"dn","l":-4.39,"ld":"up"},{"i":89,"u":4.68,"ud":"up","l":-5.83,"ld":"up"},{"i":90,"u":4.97,"ud":"up","l":-6.11,"ld":"up"},{"i":91,"u":6.11,"ud":"up","l":-5.54,"ld":"dn"},{"i":92,"u":6.69,"ud":"up","l":-5.54,"ld":"dn"},{"i":93,"u":6.97,"ud":"up","l":-4.97,"ld":"dn"},{"i":94,"u":6.97,"ud":"dn","l":-4.68,"ld":"dn"},{"i":95,"u":6.69,"ud":"dn","l":-4.39,"ld":"dn"},{"i":96,"u":6.69,"ud":"dn","l":-4.68,"ld":"up"},{"i":97,"u":6.40,"ud":"dn","l":-5.83,"ld":"up"},{"i":98,"u":6.69,"ud":"up","l":-6.11,"ld":"up"},{"i":99,"u":7.26,"ud":"up","l":-6.11,"ld":"up"},{"i":100,"u":7.83,"ud":"up","l":-5.54,"ld":"dn"},{"i":101,"u":8.12,"ud":"up","l":-5.54,"ld":"dn"},{"i":102,"u":8.12,"ud":"dn","l":-6.69,"ld":"up"},{"i":103,"u":8.12,"ud":"up","l":-8.12,"ld":"up"},{"i":104,"u":8.69,"ud":"up","l":-8.69,"ld":"up"},{"i":105,"u":10.12,"ud":"up","l":-8.40,"ld":"dn"},{"i":106,"u":10.98,"ud":"up","l":-7.26,"ld":"dn"},{"i":107,"u":11.27,"ud":"up","l":-7.26,"ld":"dn"},{"i":108,"u":10.98,"ud":"dn","l":-7.26,"ld":"dn"},{"i":109,"u":10.70,"ud":"dn","l":-6.69,"ld":"dn"},{"i":110,"u":10.70,"ud":"dn","l":-6.40,"ld":"dn"},{"i":111,"u":10.41,"ud":"dn","l":-6.11,"ld":"dn"},{"i":112,"u":10.41,"ud":"dn","l":-5.83,"ld":"dn"},{"i":113,"u":10.12,"ud":"dn","l":-5.83,"ld":"up"},{"i":114,"u":9.84,"ud":"up","l":-5.83,"ld":"up"},{"i":115,"u":9.84,"ud":"up","l":-4.68,"ld":"dn"},{"i":116,"u":9.84,"ud":"dn","l":-3.25,"ld":"dn"},{"i":117,"u":9.26,"ud":"dn","l":-2.10,"ld":"dn"},{"i":118,"u":8.40,"ud":"dn","l":-0.67,"ld":"dn"},{"i":119,"u":6.97,"ud":"dn","l":-0.38,"ld":"up"},{"i":120,"u":5.83,"ud":"dn","l":-0.29,"ld":"up"},{"i":121,"u":4.97,"ud":"dn","l":-0.96,"ld":"up"},{"i":122,"u":4.68,"ud":"dn","l":-0.96,"ld":"dn"},{"i":123,"u":4.97,"ud":"up","l":-0.05,"ld":"dn"},{"i":124,"u":4.68,"ud":"dn","l":-1.53,"ld":"up"},{"i":125,"u":3.53,"ud":"dn","l":-2.67,"ld":"up"},{"i":126,"u":2.39,"ud":"dn","l":-4.11,"ld":"up"},{"i":127,"u":0.96,"ud":"dn","l":-4.39,"ld":"up"},{"i":128,"u":0.67,"ud":"dn","l":-4.68,"ld":"up"},{"i":129,"u":1.81,"ud":"up","l":-4.39,"ld":"dn"},{"i":130,"u":2.39,"ud":"up","l":-4.11,"ld":"dn"},{"i":131,"u":2.67,"ud":"up","l":-4.11,"ld":"up"},{"i":132,"u":3.25,"ud":"up","l":-4.11,"ld":"dn"},{"i":133,"u":3.44,"ud":"up","l":-3.35,"ld":"dn"},{"i":134,"u":3.44,"ud":"up","l":-2.39,"ld":"dn"},{"i":135,"u":3.16,"ud":"dn","l":-1.91,"ld":"dn"},{"i":136,"u":2.58,"ud":"dn","l":-1.91,"ld":"up"},{"i":137,"u":2.30,"ud":"dn","l":-2.77,"ld":"up"},{"i":138,"u":2.30,"ud":"dn","l":-4.02,"ld":"up"},{"i":139,"u":2.87,"ud":"up","l":-4.5,"ld":"up"},{"i":140,"u":3.73,"ud":"up","l":-4.79,"ld":"up"},{"i":141,"u":4.59,"ud":"up","l":-0.2,"ld":"dn"},{"i":142,"u":5.1121,"ud":"up"}
    ]
  },
  "vconcat": [
    {
      "width": 1221,
      "height": 483,
      "resolve": {"axis": {"x": "independent", "y": "independent"}},
      "layer": [
        {
          "data": {"name": "candles"},
          "mark": {"type": "rule", "color": "#000", "strokeWidth": 1},
          "encoding": {
            "x": {"field": "i", "type": "quantitative", "scale": {"domain": [-0.2125, 152.4125], "nice": false, "zero": false, "padding": 0},
              "axis": {"orient": "bottom", "values": [0,4,8,12,16,20,24,28,32,36,40,44,48,52,56,60,64,68,72,76,80,84,88,92,96,100,104,108,112,116,120,124,128,132,136,140,144,148,152], "labels": false, "ticks": false, "tickSize": 0, "labelPadding": 0, "minExtent": 0, "maxExtent": 0, "domain": false, "grid": true, "title": null}},
            "y": {"field": "l", "type": "quantitative", "scale": {"domain": [2595.18, 2667.0], "nice": false, "zero": false, "padding": 0},
              "axis": {"orient": "right", "values": [2599.94, 2604.70, 2609.46, 2614.22, 2618.98, 2623.74, 2628.50, 2633.26, 2638.02, 2642.78, 2647.54, 2652.30, 2657.06, 2661.82, 2666.58], "format": ".3f", "grid": true, "domain": false, "tickSize": 4, "labelPadding": 2, "title": null}},
            "y2": {"field": "h"}
          }
        },
        {
          "data": {"values": [{"a": -0.2125, "b": 152.4125, "p": 2631.692}]},
          "mark": {"type": "rule", "color": "#ff0000", "strokeWidth": 1},
          "encoding": {
            "x": {"field": "a", "type": "quantitative", "axis": null},
            "x2": {"field": "b"},
            "y": {"field": "p", "type": "quantitative", "axis": null}
          }
        },
        {
          "data": {"name": "candles"},
          "mark": {"type": "rule", "color": "#000", "strokeWidth": 1},
          "encoding": {
            "x": {"field": "i", "type": "quantitative", "axis": null},
            "y": {"field": "l", "type": "quantitative", "axis": null},
            "y2": {"field": "h"}
          }
        },
        {
          "data": {"name": "candles"},
          "mark": {"type": "bar", "size": 4, "stroke": "#000", "strokeWidth": 1},
          "encoding": {
            "x": {"field": "i", "type": "quantitative", "axis": null},
            "y": {"field": "o", "type": "quantitative", "axis": null},
            "y2": {"field": "c"},
            "fill": {"condition": {"test": "datum.c >= datum.o", "value": "#ffffff"}, "value": "#000000"}
          }
        },
        {
          "data": {"name": "alligator"},
          "mark": {"type": "line", "strokeWidth": 2, "interpolate": "monotone", "clip": true},
          "encoding": {
            "x": {"field": "i", "type": "quantitative", "axis": null},
            "y": {"field": "p", "type": "quantitative", "axis": null},
            "color": {"field": "s", "type": "nominal", "scale": {"domain": ["jaw", "teeth", "lips"], "range": ["#0a50d8", "#ff0000", "#3cc83c"]}, "legend": null}
          }
        },
        {
          "data": {"name": "fractals"},
          "transform": [{"filter": "datum.t === 'up' && datum.i > 0"}],
          "mark": {"type": "point", "filled": true, "size": 144, "shape": "M0,-1L1,0.8L0,0.3L-1,0.8Z", "fill": "#f4f4f4", "stroke": "#3a3a3a", "strokeWidth": 0.8, "opacity": 1, "clip": true},
          "encoding": {
            "x": {"field": "i", "type": "quantitative", "axis": null},
            "y": {"field": "p", "type": "quantitative", "axis": null}
          }
        },
        {
          "data": {"name": "fractals"},
          "transform": [{"filter": "datum.t === 'up' && datum.i > 0"}],
          "mark": {"type": "point", "filled": true, "size": 144, "shape": "M0,-1L-1,0.8L0,0.3Z", "fill": "#111111", "strokeWidth": 0, "opacity": 1, "clip": true},
          "encoding": {
            "x": {"field": "i", "type": "quantitative", "axis": null},
            "y": {"field": "p", "type": "quantitative", "axis": null}
          }
        },
        {
          "data": {"name": "fractals"},
          "transform": [{"filter": "datum.t === 'down' && datum.i > 0"}],
          "mark": {"type": "point", "filled": true, "size": 144, "shape": "M0,1L1,-0.8L0,-0.3L-1,-0.8Z", "fill": "#f4f4f4", "stroke": "#3a3a3a", "strokeWidth": 0.8, "opacity": 1, "clip": true},
          "encoding": {
            "x": {"field": "i", "type": "quantitative", "axis": null},
            "y": {"field": "p", "type": "quantitative", "axis": null}
          }
        },
        {
          "data": {"name": "fractals"},
          "transform": [{"filter": "datum.t === 'down' && datum.i > 0"}],
          "mark": {"type": "point", "filled": true, "size": 144, "shape": "M0,1L1,-0.8L0,-0.3Z", "fill": "#111111", "strokeWidth": 0, "opacity": 1, "clip": true},
          "encoding": {
            "x": {"field": "i", "type": "quantitative", "axis": null},
            "y": {"field": "p", "type": "quantitative", "axis": null}
          }
        },
        {
          "data": {"name": "fractals"},
          "transform": [{"filter": "datum.i === 0"}],
          "mark": {"type": "point", "filled": true, "size": 144, "fill": "#f4f4f4", "stroke": "#3a3a3a", "strokeWidth": 0.8, "opacity": 1},
          "encoding": {
            "x": {"field": "i", "type": "quantitative", "axis": null},
            "y": {"field": "p", "type": "quantitative", "axis": null},
            "shape": {"field": "t", "type": "nominal", "scale": {"domain": ["up", "down"], "range": ["M0,-1L1,0.8L0,0.3L-0.25,0.45L-0.25,-0.4Z", "M0,1L1,-0.8L0,-0.3L-0.25,-0.45L-0.25,0.4Z"]}, "legend": null}
          }
        },
        {
          "data": {"values": [{"i": 138.88, "p": 2629.69}]},
          "mark": {"type": "point", "filled": true, "size": 400, "shape": "M-0.38,-1L0.38,-1L0.38,0L0.95,0L0,1L-0.95,0L-0.38,0Z", "fill": "#ffe4e4", "stroke": "#ff0000", "strokeWidth": 1.2, "opacity": 1},
          "encoding": {
            "x": {"field": "i", "type": "quantitative", "axis": null},
            "y": {"field": "p", "type": "quantitative", "axis": null}
          }
        },
        {
          "data": {"values": [{"a": 152.83, "b": 158.25, "lo": 2630.88, "hi": 2632.37}]},
          "mark": {"type": "rect", "color": "#c80000", "clip": false},
          "encoding": {
            "x": {"field": "a", "type": "quantitative", "axis": null},
            "x2": {"field": "b"},
            "y": {"field": "lo", "type": "quantitative", "axis": null},
            "y2": {"field": "hi"}
          }
        },
        {
          "data": {"values": [{"i": 155.54, "p": 2631.692, "t": "2631.692"}]},
          "mark": {"type": "text", "color": "#ffffff", "font": "Liberation Sans", "fontSize": 9.5, "align": "center", "baseline": "middle", "clip": false},
          "encoding": {
            "x": {"field": "i", "type": "quantitative", "axis": null},
            "y": {"field": "p", "type": "quantitative", "axis": null},
            "text": {"field": "t"}
          }
        }
      ]
    },
    {
      "width": 1221,
      "height": 103,
      "resolve": {"axis": {"x": "independent", "y": "independent"}},
      "layer": [
        {
          "data": {"name": "ao"},
          "mark": {"type": "bar", "size": 4},
          "encoding": {
            "x": {"field": "i", "type": "quantitative", "scale": {"domain": [-0.2125, 152.4125], "nice": false, "zero": false, "padding": 0},
              "axis": {"orient": "bottom", "values": [0,4,8,12,16,20,24,28,32,36,40,44,48,52,56,60,64,68,72,76,80,84,88,92,96,100,104,108,112,116,120,124,128,132,136,140,144,148,152], "labels": false, "ticks": false, "tickSize": 0, "labelPadding": 0, "minExtent": 0, "maxExtent": 0, "domain": false, "grid": true, "title": null}},
            "y": {"field": "v", "type": "quantitative", "scale": {"domain": [-17.3702, 27.1459], "nice": false, "zero": false, "padding": 0},
              "axis": {"orient": "right", "values": [27.1459, 0, -17.3702], "format": ".4f", "labelFlush": true, "grid": true, "gridOpacity": {"condition": {"test": "datum.value === 0", "value": 1}, "value": 0}, "domain": false, "tickSize": 4, "labelPadding": 2, "title": null}},
            "y2": {"datum": 0},
            "color": {"field": "d", "type": "nominal", "scale": {"domain": ["up", "dn"], "range": ["#008000", "#ff0000"]}, "legend": null}
          }
        },
        {
          "data": {"values": [{"a": -0.2125, "v": 27.1459, "t": "AO -13.2811"}]},
          "mark": {"type": "text", "align": "left", "baseline": "top", "dx": 5, "dy": 4, "font": "Liberation Sans", "fontSize": 9.5, "color": "#000"},
          "encoding": {
            "x": {"field": "a", "type": "quantitative", "axis": null},
            "y": {"field": "v", "type": "quantitative", "axis": null},
            "text": {"field": "t"}
          }
        }
      ]
    },
    {
      "width": 1221,
      "height": 100,
      "resolve": {"axis": {"x": "independent", "y": "independent"}},
      "layer": [
        {
          "data": {"name": "ac"},
          "mark": {"type": "bar", "size": 4},
          "encoding": {
            "x": {"field": "i", "type": "quantitative", "scale": {"domain": [-0.2125, 152.4125], "nice": false, "zero": false, "padding": 0},
              "axis": {"orient": "bottom", "values": [0,4,8,12,16,20,24,28,32,36,40,44,48,52,56,60,64,68,72,76,80,84,88,92,96,100,104,108,112,116,120,124,128,132,136,140,144,148,152], "labels": false, "ticks": false, "tickSize": 0, "labelPadding": 0, "minExtent": 0, "maxExtent": 0, "domain": false, "grid": true, "title": null}},
            "y": {"field": "v", "type": "quantitative", "scale": {"domain": [-7.04783, 6.12277], "nice": false, "zero": false, "padding": 0},
              "axis": {"orient": "right", "values": [6.12277, 0, -7.04783], "format": ".5f", "labelFlush": true, "grid": true, "gridOpacity": {"condition": {"test": "datum.value === 0", "value": 1}, "value": 0}, "domain": false, "tickSize": 4, "labelPadding": 2, "title": null}},
            "y2": {"datum": 0},
            "color": {"field": "d", "type": "nominal", "scale": {"domain": ["up", "dn"], "range": ["#008000", "#ff0000"]}, "legend": null}
          }
        },
        {
          "data": {"values": [{"a": -0.2125, "v": 6.12277, "t": "AC -2.40836"}]},
          "mark": {"type": "text", "align": "left", "baseline": "top", "dx": 5, "dy": 4, "font": "Liberation Sans", "fontSize": 9.5, "color": "#000"},
          "encoding": {
            "x": {"field": "a", "type": "quantitative", "axis": null},
            "y": {"field": "v", "type": "quantitative", "axis": null},
            "text": {"field": "t"}
          }
        }
      ]
    },
    {
      "width": 1221,
      "height": 84,
      "resolve": {"axis": {"x": "independent", "y": "independent"}},
      "layer": [
        {
          "data": {"name": "gator"},
          "mark": {"type": "bar", "size": 4},
          "encoding": {
            "x": {"field": "i", "type": "quantitative", "scale": {"domain": [-0.2125, 152.4125], "nice": false, "zero": false, "padding": 0},
              "axis": {"orient": "bottom", "values": [0,4,8,12,16,20,24,28,32,36,40,44,48,52,56,60,64,68,72,76,80,84,88,92,96,100,104,108,112,116,120,124,128,132,136,140,144,148,152],
                "labelExpr": "datum.value % 8 === 0 && datum.value <= 136 ? ['26 Dec 2024','26 Dec 17:00','27 Dec 02:00','27 Dec 10:00','27 Dec 18:00','30 Dec 03:00','30 Dec 11:00','30 Dec 19:00','31 Dec 04:00','31 Dec 12:00','31 Dec 20:00','2 Jan 06:00','2 Jan 14:00','2 Jan 22:00','3 Jan 07:00','3 Jan 15:00','3 Jan 23:00','6 Jan 08:00'][datum.value / 8] : ''",
                "labelAlign": "left", "labelPadding": 1, "labelOffset": -1, "labelOverlap": false, "labelFlush": false, "labelBound": false,
                "tickSize": 4, "tickOpacity": {"condition": {"test": "datum.value % 8 === 0 && datum.value <= 136", "value": 1}, "value": 0},
                "domain": false, "grid": true, "title": null}},
            "y": {"field": "u", "type": "quantitative", "scale": {"domain": [-11.02, 13.0879], "nice": false, "zero": false, "padding": 0},
              "axis": {"orient": "right", "values": [13.0879, 0, -11.02], "format": ".4f", "labelFlush": true, "grid": true, "gridOpacity": {"condition": {"test": "datum.value === 0", "value": 1}, "value": 0}, "domain": false, "tickSize": 4, "labelPadding": 2, "title": null}},
            "y2": {"datum": 0},
            "color": {"field": "ud", "type": "nominal", "scale": {"domain": ["up", "dn"], "range": ["#008000", "#ff0000"]}, "legend": null}
          }
        },
        {
          "data": {"name": "gator"},
          "mark": {"type": "bar", "size": 4},
          "encoding": {
            "x": {"field": "i", "type": "quantitative", "axis": null},
            "y": {"field": "l", "type": "quantitative", "axis": null},
            "y2": {"datum": 0},
            "color": {"field": "ld", "type": "nominal", "legend": null}
          }
        },
        {
          "data": {"values": [{"a": -0.2125, "v": 13.0879, "t": "Gator(13,8,5) 5.1121 0.0000"}]},
          "mark": {"type": "text", "align": "left", "baseline": "top", "dx": 5, "dy": 4, "font": "Liberation Sans", "fontSize": 9.5, "color": "#000"},
          "encoding": {
            "x": {"field": "a", "type": "quantitative", "axis": null},
            "y": {"field": "v", "type": "quantitative", "axis": null},
            "text": {"field": "t"}
          }
        }
      ]
    }
  ],
  "config": {
    "view": {"stroke": "#000000", "strokeWidth": 1},
    "axis": {"labelFont": "Liberation Sans", "labelFontSize": 9.5, "labelColor": "#000000", "tickColor": "#000000", "gridColor": "#d0d0d0", "gridDash": [3, 3], "gridWidth": 1}
  }
}
